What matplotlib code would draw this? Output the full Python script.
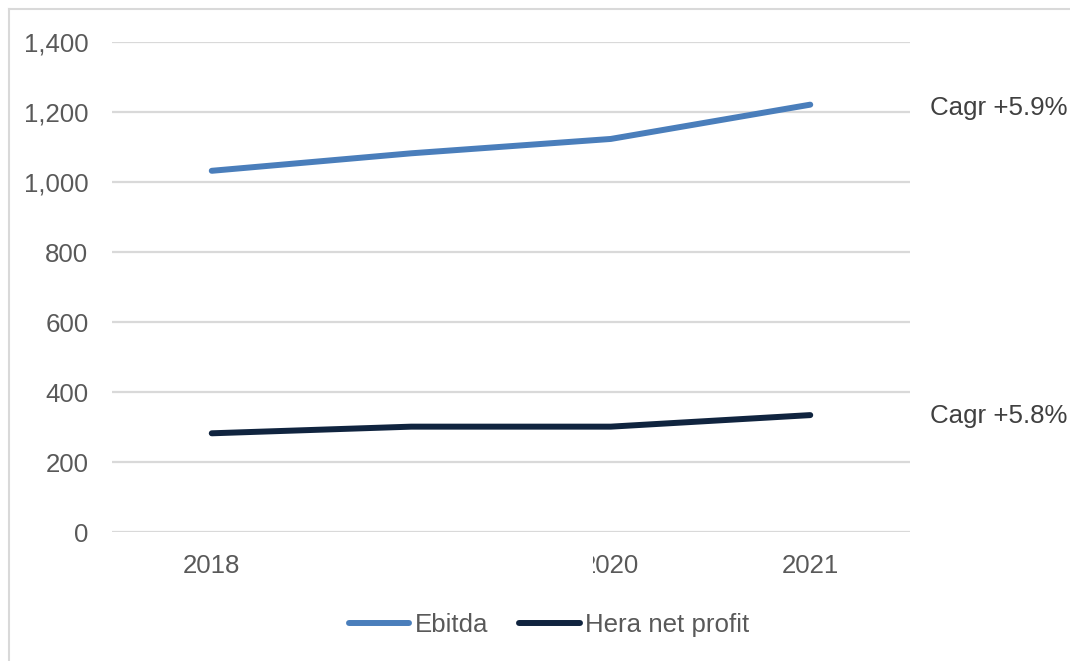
import matplotlib
matplotlib.use("Agg")
import matplotlib.pyplot as plt
from matplotlib.lines import Line2D
from matplotlib.transforms import Bbox, TransformedBbox

years = ["2018", "2019", "2020", "2021"]
tick_labels = ["2018", "", "2020", "2021"]
ebitda = [1032, 1082, 1123, 1221]
net_profit = [282, 301, 301, 334]
yticks = [0, 200, 400, 600, 800, 1000, 1200, 1400]
cagr_labels = ["Cagr +5.9%", "Cagr +5.8%"]

W, H = 1070, 661
fig = plt.figure(figsize=(W / 100, H / 100), dpi=100)
plt.rcParams['font.family'] = ['Liberation Sans', 'DejaVu Sans']
txt_col = "#595959"
grid_col = "#d9d9d9"
fs = 18.6

ax = fig.add_axes([112 / W, (H - 532) / H, (910 - 112) / W, (532 - 42) / H])
x = list(range(len(years)))
c1, c2 = "#4a7ebb", "#10243f"
ax.plot(x, ebitda, color=c1, lw=4.3, solid_capstyle="round", solid_joinstyle="round", zorder=3)
ax.plot(x, net_profit, color=c2, lw=4.3, solid_capstyle="round", solid_joinstyle="round", zorder=3)
ax.set_xlim(-0.5, 3.5)
ax.set_ylim(0, 1400)
ax.set_yticks(yticks)
ax.set_yticklabels([f"{v:,}" for v in yticks])
ax.set_xticks(x)
ax.set_xticklabels(tick_labels)
for s in ax.spines.values():
    s.set_visible(False)
ax.grid(axis="y", color=grid_col, lw=1.6, zorder=0)
ax.set_axisbelow(True)
ax.tick_params(axis="both", length=0, labelsize=fs, labelcolor=txt_col)
ax.tick_params(axis="y", pad=17)
ax.tick_params(axis="x", pad=15.5)

# Cagr annotations
ax.annotate(cagr_labels[0], xy=(3, ebitda[3]), xycoords="data",
            xytext=(930 / W, (H - 108) / H), textcoords="figure fraction",
            fontsize=fs, color="#404040", va="center", ha="left")
ax.annotate(cagr_labels[1], xy=(3, net_profit[3]), xycoords="data",
            xytext=(930 / W, (H - 416) / H), textcoords="figure fraction",
            fontsize=fs, color="#404040", va="center", ha="left")

# Legend
handles = [Line2D([], [], color=c1, lw=4.3, solid_capstyle="round"),
           Line2D([], [], color=c2, lw=4.3, solid_capstyle="round")]
leg = fig.legend(handles, ["Ebitda", "Hera net profit"], loc="center",
                 bbox_to_anchor=(549 / W, (H - 625) / H), ncol=2, frameon=False,
                 fontsize=fs, handlelength=2.35, handletextpad=0.2, columnspacing=1.2)
for t in leg.get_texts():
    t.set_color(txt_col)

# Figure border (top and left)
fig.add_artist(Line2D([9 / W, 1.0], [(H - 8.5) / H, (H - 8.5) / H], color=grid_col, lw=1.5, transform=fig.transFigure))
fig.add_artist(Line2D([9 / W, 9 / W], [0, (H - 8.5) / H], color=grid_col, lw=1.5, transform=fig.transFigure))

# Clip the "2020" label as in the reference
fig.canvas.draw()
lbl = ax.get_xticklabels()[2]
lbl.set_clip_box(TransformedBbox(Bbox([[593 / W, 0], [1, 1]]), fig.transFigure))
lbl.set_clip_on(True)

fig.savefig("out.png", dpi=100, facecolor="white")
